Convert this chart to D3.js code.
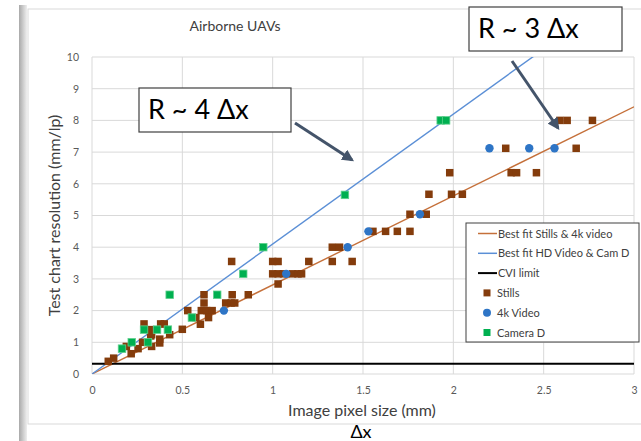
<!DOCTYPE html>
<html>
<head>
<meta charset="utf-8">
<script src="https://cdn.jsdelivr.net/npm/d3@7"></script>
<style>
	body { margin: 0; background: #fff; }
	text { font-family: Lato, "Open Sans", sans-serif; }
</style>
</head>
<body>
<script>
// values
var stillsX = [2.59, 2.63, 2.77, 2.29, 2.68, 1.98, 2.32, 2.35, 2.46, 1.865, 1.99, 2.05,
	1.76, 1.85, 1.555, 1.625, 1.69, 1.76, 1.33, 1.37, 1.33, 1.44, 1.2, 1.0, 1.03, 0.773,
	1.0, 1.03, 1.06, 1.11, 1.14, 1.16, 1.03, 0.62, 0.776, 0.865, 0.62, 0.74, 0.77, 0.79,
	0.53, 0.605, 0.635, 0.665, 0.575, 0.645, 0.6, 0.5, 0.288, 0.38, 0.40, 0.325, 0.325,
	0.33, 0.43, 0.375, 0.375, 0.28, 0.33, 0.19, 0.255, 0.217, 0.12, 0.09];
var stillsY = [8.0, 8.0, 8.0, 7.12, 7.12, 6.35, 6.35, 6.35, 6.35, 5.67, 5.67, 5.67,
	5.04, 5.04, 4.5, 4.5, 4.5, 4.5, 4.0, 4.0, 3.55, 3.55, 3.55, 3.55, 3.55, 3.55,
	3.16, 3.16, 3.16, 3.16, 3.16, 3.16, 2.84, 2.5, 2.5, 2.5, 2.24, 2.24, 2.24, 2.24,
	2.0, 2.0, 2.0, 2.0, 1.78, 1.78, 1.57, 1.41, 1.58, 1.58, 1.58, 1.4, 1.2,
	1.24, 1.24, 1.1, 0.98, 1.0, 0.87, 0.87, 0.8, 0.64, 0.5, 0.4];
var video4kX = [0.73, 1.075, 1.415, 1.53, 1.815, 2.20, 2.42, 2.56];
var video4kY = [2.0, 3.16, 4.0, 4.5, 5.04, 7.12, 7.12, 7.12];
var camDX = [0.166, 0.22, 0.31, 0.288, 0.36, 0.42, 0.43, 0.553, 0.693, 0.837, 0.948, 1.40, 1.93, 1.96];
var camDY = [0.8, 1.0, 1.0, 1.40, 1.40, 1.40, 2.5, 1.78, 2.5, 3.16, 4.0, 5.65, 8.0, 8.0];
var slopeStills = 2.81,
	slopeHD = 4.1,
	cviLimit = 0.32;
var xTicks = [0, 0.5, 1, 1.5, 2, 2.5, 3],
	yTicks = [0, 1, 2, 3, 4, 5, 6, 7, 8, 9, 10];
var legendItems = [
	{label: 'Best fit Stills & 4k video', kind: 'line', color: '#c5703a'},
	{label: 'Best fit HD Video & Cam D', kind: 'line', color: '#5b8fd6'},
	{label: 'CVI limit', kind: 'line', color: '#000'},
	{label: 'Stills', kind: 'square', color: '#843c0c'},
	{label: '4k Video', kind: 'circle', color: '#2e75c6'},
	{label: 'Camera D', kind: 'square', color: '#00b050'}];

var width = 641,
	height = 441,
	plot = {left: 92, right: 634, top: 57, bottom: 374};

var svg = d3.select('body').append('svg')
	.attr('width', width)
	.attr('height', height);

var x = d3.scaleLinear().domain([0, 3]).range([plot.left, plot.right]),
	y = d3.scaleLinear().domain([0, 10]).range([plot.bottom, plot.top]);

// slide shadow and chart frame
var grad = svg.append('defs').append('linearGradient').attr('id', 'shade');
grad.append('stop').attr('offset', 0).attr('stop-color', '#a9a9a9');
grad.append('stop').attr('offset', 1).attr('stop-color', '#eeeeee');
svg.append('rect').attr('x', 19).attr('y', 5).attr('width', 8).attr('height', 436)
	.attr('fill', 'url(#shade)');
svg.append('rect').attr('x', 28).attr('y', 9).attr('width', 640).attr('height', 415)
	.attr('fill', '#fff').attr('stroke', '#d9d9d9');

// grid
svg.append('g').selectAll('line').data(xTicks).enter().append('line')
	.attr('x1', function(d) { return x(d); }).attr('x2', function(d) { return x(d); })
	.attr('y1', plot.top).attr('y2', plot.bottom)
	.attr('stroke', '#d9d9d9');
svg.append('g').selectAll('line').data(yTicks).enter().append('line')
	.attr('x1', plot.left).attr('x2', plot.right)
	.attr('y1', function(d) { return y(d); }).attr('y2', function(d) { return y(d); })
	.attr('stroke', '#d9d9d9');

// axes, tick labels only
var xAxis = svg.append('g').attr('transform', 'translate(0,' + (plot.bottom + 10) + ')')
	.call(d3.axisBottom(x).tickValues(xTicks).tickSize(0).tickFormat(d3.format('')));
var yAxis = svg.append('g').attr('transform', 'translate(' + (plot.left - 10) + ',0)')
	.call(d3.axisLeft(y).tickValues(yTicks).tickSize(0));
[xAxis, yAxis].forEach(function(a) {
	a.select('.domain').remove();
	a.selectAll('text').attr('fill', '#595959').style('font-size', '10.5px')
		.style('font-family', 'Lato, sans-serif');
});

// fit lines and limit
var clipId = svg.append('clipPath').attr('id', 'plotclip');
clipId.append('rect').attr('x', plot.left).attr('y', plot.top)
	.attr('width', plot.right - plot.left).attr('height', plot.bottom - plot.top);
var lines = svg.append('g').attr('clip-path', 'url(#plotclip)');
lines.append('line')
	.attr('x1', x(0)).attr('y1', y(0)).attr('x2', x(3)).attr('y2', y(3 * slopeStills))
	.attr('stroke', legendItems[0].color).attr('stroke-width', 1.4);
lines.append('line')
	.attr('x1', x(0)).attr('y1', y(0)).attr('x2', x(3)).attr('y2', y(3 * slopeHD))
	.attr('stroke', legendItems[1].color).attr('stroke-width', 1.4);
svg.append('line')
	.attr('x1', x(0)).attr('x2', x(3)).attr('y1', y(cviLimit)).attr('y2', y(cviLimit))
	.attr('stroke', '#000').attr('stroke-width', 2);

// markers
var s = 7.5;
svg.append('g').selectAll('rect').data(d3.range(stillsX.length)).enter().append('rect')
	.attr('x', function(i) { return x(stillsX[i]) - s / 2; })
	.attr('y', function(i) { return y(stillsY[i]) - s / 2; })
	.attr('width', s).attr('height', s)
	.attr('fill', '#843c0c');
svg.append('g').selectAll('circle').data(d3.range(video4kX.length)).enter().append('circle')
	.attr('cx', function(i) { return x(video4kX[i]); })
	.attr('cy', function(i) { return y(video4kY[i]); })
	.attr('r', 4.2)
	.attr('fill', '#2e75c6');
svg.append('g').selectAll('rect').data(d3.range(camDX.length)).enter().append('rect')
	.attr('x', function(i) { return x(camDX[i]) - s / 2; })
	.attr('y', function(i) { return y(camDY[i]) - s / 2; })
	.attr('width', s).attr('height', s)
	.attr('fill', '#00b050').attr('stroke', '#5fd08d').attr('stroke-width', 0.8);

// titles
svg.append('text').attr('x', 235).attr('y', 31).attr('text-anchor', 'middle')
	.attr('fill', '#404040').style('font-size', '14px').text('Airborne UAVs');
svg.append('text').attr('transform', 'translate(60,' + ((plot.top + plot.bottom) / 2) + ') rotate(-90)')
	.attr('text-anchor', 'middle').attr('fill', '#404040').style('font-size', '16px')
	.text('Test chart resolution  (mm/lp)');
svg.append('text').attr('x', 362).attr('y', 416).attr('text-anchor', 'middle')
	.attr('fill', '#404040').style('font-size', '16px').text('Image pixel size (mm)');
svg.append('text').attr('x', 361).attr('y', 438).attr('text-anchor', 'middle')
	.attr('fill', '#000').style('font-size', '18px').text('Δx');

// legend
var lg = svg.append('g');
lg.append('rect').attr('x', 466).attr('y', 223).attr('width', 173).attr('height', 119)
	.attr('fill', '#fff').attr('stroke', '#404040');
legendItems.forEach(function(item, i) {
	var cy = 233.5 + i * 19.8;
	if (item.kind === 'line') {
		lg.append('line').attr('x1', 478).attr('x2', 497).attr('y1', cy).attr('y2', cy)
			.attr('stroke', item.color).attr('stroke-width', item.color === '#000' ? 2 : 1.5);
	} else if (item.kind === 'square') {
		lg.append('rect').attr('x', 483.5).attr('y', cy - 3.5).attr('width', 7).attr('height', 7)
			.attr('fill', item.color);
	} else {
		lg.append('circle').attr('cx', 487).attr('cy', cy).attr('r', 4).attr('fill', item.color);
	}
	lg.append('text').attr('x', item.kind === 'line' ? 498 : 497).attr('y', cy + 4)
		.attr('fill', '#404040').style('font-size', '11px').text(item.label);
});

// annotations
var defs = svg.select('defs');
defs.append('marker').attr('id', 'head').attr('viewBox', '0 0 10 10')
	.attr('refX', 8).attr('refY', 5).attr('markerWidth', 4).attr('markerHeight', 4)
	.attr('orient', 'auto')
	.append('path').attr('d', 'M0,0 L10,5 L0,10 Z').attr('fill', '#44546a');
function callout(bx, by, bw, bh, label, ax1, ay1, ax2, ay2) {
	svg.append('line').attr('x1', ax1).attr('y1', ay1).attr('x2', ax2).attr('y2', ay2)
		.attr('stroke', '#44546a').attr('stroke-width', 3).attr('marker-end', 'url(#head)');
	svg.append('rect').attr('x', bx).attr('y', by).attr('width', bw).attr('height', bh)
		.attr('fill', '#fff').attr('stroke', '#404040').attr('stroke-width', 1.2);
	svg.append('text').attr('x', bx + 9).attr('y', by + bh / 2 + 9)
		.attr('fill', '#000').style('font-size', '27px').text(label);
}
callout(139, 88, 152, 44, 'R ~ 4 Δx', 295, 123, 352, 160);
callout(469, 7, 153, 44, 'R ~ 3 Δx', 512, 61, 558, 128);
</script>
</body>
</html>
